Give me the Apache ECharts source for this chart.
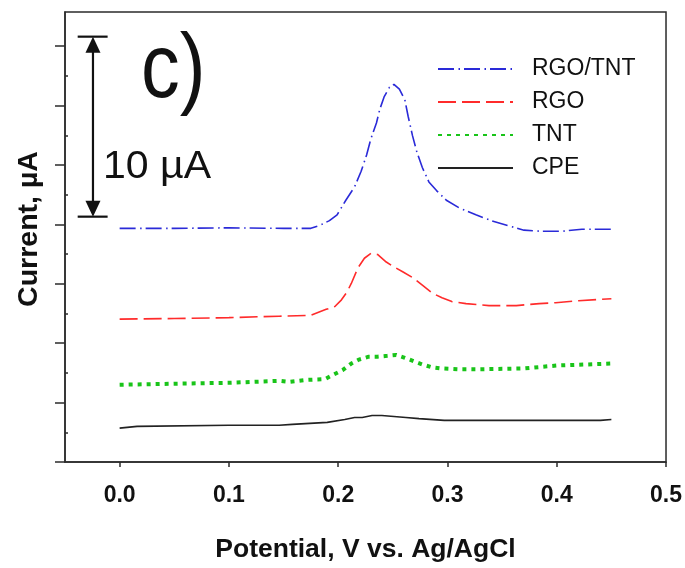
<!DOCTYPE html>
<html>
<head>
<meta charset="utf-8">
<script src="https://cdn.jsdelivr.net/npm/echarts@6/dist/echarts.min.js"></script>
<style>
  html, body { margin: 0; padding: 0; background: #fff; }
  #chart { width: 685px; height: 568px; }
</style>
</head>
<body>
<div id="chart"></div>
<script>
// Differential pulse voltammograms (current offset per electrode)
const seriesNames = ['RGO/TNT', 'RGO', 'TNT', 'CPE'];

const rgoTntX = [0.000, 0.050, 0.100, 0.150, 0.175, 0.183, 0.192, 0.199, 0.207, 0.215, 0.221, 0.226, 0.230, 0.235, 0.238, 0.242, 0.247, 0.251, 0.256, 0.261, 0.264, 0.268, 0.272, 0.277, 0.283, 0.290, 0.299, 0.311, 0.326, 0.340, 0.355, 0.370, 0.385, 0.405, 0.423, 0.450];
const rgoTntY = [12.98, 12.98, 13.01, 12.98, 12.98, 13.14, 13.41, 13.73, 14.54, 15.29, 16.15, 17.06, 17.97, 18.83, 19.58, 20.28, 20.82, 20.98, 20.71, 20.12, 19.21, 18.13, 17.22, 16.36, 15.56, 15.08, 14.54, 14.11, 13.73, 13.41, 13.14, 12.88, 12.82, 12.82, 12.93, 12.93];

const rgoX = [0.000, 0.050, 0.100, 0.146, 0.175, 0.189, 0.197, 0.203, 0.208, 0.212, 0.218, 0.224, 0.230, 0.236, 0.244, 0.251, 0.259, 0.268, 0.277, 0.286, 0.295, 0.304, 0.317, 0.338, 0.363, 0.384, 0.399, 0.420, 0.450];
const rgoY = [7.94, 7.97, 8.02, 8.10, 8.15, 8.48, 8.64, 9.01, 9.44, 9.92, 10.78, 11.32, 11.59, 11.53, 11.11, 10.84, 10.57, 10.25, 9.82, 9.39, 9.12, 8.91, 8.80, 8.69, 8.69, 8.80, 8.85, 8.96, 9.07];

const tntX = [0.000, 0.050, 0.100, 0.146, 0.155, 0.171, 0.188, 0.195, 0.204, 0.212, 0.219, 0.228, 0.236, 0.245, 0.253, 0.261, 0.270, 0.277, 0.286, 0.294, 0.311, 0.326, 0.370, 0.400, 0.450];
const tntY = [4.29, 4.35, 4.40, 4.51, 4.45, 4.56, 4.61, 4.83, 5.10, 5.47, 5.69, 5.85, 5.85, 5.90, 5.95, 5.79, 5.58, 5.42, 5.26, 5.20, 5.15, 5.15, 5.20, 5.36, 5.47];

const cpeX = [0.000, 0.016, 0.100, 0.146, 0.158, 0.190, 0.206, 0.215, 0.222, 0.231, 0.240, 0.262, 0.274, 0.297, 0.330, 0.400, 0.440, 0.450];
const cpeY = [1.88, 1.98, 2.04, 2.04, 2.09, 2.20, 2.36, 2.47, 2.47, 2.58, 2.58, 2.47, 2.41, 2.31, 2.31, 2.31, 2.31, 2.36];

// Axis ticks
const xTickValues = [0.0, 0.1, 0.2, 0.3, 0.4, 0.5];
const yMajorTicks = [0, 3.3, 6.6, 9.9, 13.2, 16.5, 19.8, 23.1];
const yMinorTicks = [1.65, 4.95, 8.25, 11.55, 14.85, 18.15, 21.45];

// 10 µA scale bar: [x, yBottom, yTop, capLeft, capRight]
const scaleBar = [[-0.0244, 13.63, 23.63, -0.0384, -0.0110]];

const zip = (xs, ys) => xs.map((x, i) => [x, ys[i]]);

const axisColor = '#2b2b2b';
const font = 'Arial, "Liberation Sans", Helvetica, sans-serif';

const chart = echarts.init(document.getElementById('chart'), null, { renderer: 'canvas' });

chart.setOption({
  animation: false,
  backgroundColor: '#ffffff',
  grid: {
    left: 65, right: 18, top: 12, bottom: 90,
    show: true, borderColor: axisColor, borderWidth: 1.5, backgroundColor: 'transparent'
  },
  legend: {
    orient: 'vertical',
    left: 432, top: 52,
    itemWidth: 75, itemHeight: 14, itemGap: 9,
    selectedMode: false,
    data: seriesNames,
    itemStyle: { opacity: 0 },
    textStyle: { fontFamily: font, fontSize: 23, color: '#111', lineHeight: 24, padding: [0, 0, 0, 14] }
  },
  xAxis: {
    type: 'value', min: -0.05, max: 0.5,
    name: 'Potential, V vs. Ag/AgCl',
    nameLocation: 'middle', nameGap: 74,
    nameTextStyle: { fontFamily: font, fontSize: 26.5, fontWeight: 'bold', color: '#111' },
    axisLine: { show: true, onZero: false, lineStyle: { color: axisColor, width: 1.5 } },
    axisTick: { show: true, inside: false, length: 5, customValues: xTickValues, lineStyle: { color: axisColor, width: 1.5 } },
    axisLabel: {
      show: true, margin: 22, customValues: xTickValues,
      formatter: v => v.toFixed(1),
      fontFamily: font, fontSize: 23, fontWeight: 'bold', color: '#111'
    },
    splitLine: { show: false }
  },
  yAxis: [
    {
      type: 'value', min: 0, max: 25, position: 'left',
      axisLine: { show: true, onZero: false, lineStyle: { color: axisColor, width: 1.5 } },
      axisTick: { show: true, inside: false, length: 10, customValues: yMajorTicks, lineStyle: { color: axisColor, width: 1.5 } },
      axisLabel: { show: false },
      splitLine: { show: false }
    },
    {
      type: 'value', min: 0, max: 25, position: 'left', offset: 0,
      axisLine: { show: false, onZero: false },
      axisTick: { show: true, inside: true, length: 3, customValues: yMinorTicks, lineStyle: { color: axisColor, width: 1.5 } },
      axisLabel: { show: false },
      splitLine: { show: false }
    }
  ],
  graphic: [
    {
      type: 'text', left: 141, top: 27, scaleX: 0.86,
      style: { text: 'c)', fontFamily: font, fontSize: 90, fill: '#111' }
    },
    {
      type: 'text', left: 103, top: 149, scaleX: 1.08,
      style: { text: '10 µA', fontFamily: font, fontSize: 38, fill: '#111' }
    },
    {
      type: 'text', x: 29, y: 229, rotation: Math.PI / 2,
      style: { text: 'Current, µA', fontFamily: font, fontSize: 28.5, fontWeight: 'bold', fill: '#111', align: 'center', verticalAlign: 'middle' }
    }
  ],
  series: [
    {
      name: 'RGO/TNT', type: 'line', symbol: 'none', data: zip(rgoTntX, rgoTntY),
      color: '#2a2ad8',
      lineStyle: { color: '#2a2ad8', width: 1.6, type: [16, 4.5, 1.5, 4] }
    },
    {
      name: 'RGO', type: 'line', symbol: 'none', data: zip(rgoX, rgoY),
      color: '#ff2b2b',
      lineStyle: { color: '#ff2b2b', width: 1.6, type: [18, 6] }
    },
    {
      name: 'TNT', type: 'line', symbol: 'none', data: zip(tntX, tntY),
      color: '#19c419',
      lineStyle: { color: '#19c419', width: 4, type: [4, 5] }
    },
    {
      name: 'CPE', type: 'line', symbol: 'none', data: zip(cpeX, cpeY),
      color: '#222222',
      lineStyle: { color: '#222222', width: 1.6 }
    },
    {
      name: 'scale', type: 'custom', silent: true, clip: false,
      encode: { x: [0, 3, 4], y: [1, 2] },
      data: scaleBar,
      renderItem: function (params, api) {
        const bottom = api.coord([api.value(0), api.value(1)]);
        const top = api.coord([api.value(0), api.value(2)]);
        const capL = api.coord([api.value(3), api.value(2)])[0];
        const capR = api.coord([api.value(4), api.value(2)])[0];
        const style = { stroke: '#111', lineWidth: 2.2, fill: null };
        const head = 16, half = 7.5;
        return {
          type: 'group',
          children: [
            { type: 'line', shape: { x1: top[0], y1: top[1] + head - 1, x2: bottom[0], y2: bottom[1] - head + 1 }, style: style },
            { type: 'line', shape: { x1: capL, y1: top[1], x2: capR, y2: top[1] }, style: style },
            { type: 'line', shape: { x1: capL, y1: bottom[1], x2: capR, y2: bottom[1] }, style: style },
            { type: 'polygon', shape: { points: [[top[0], top[1]], [top[0] - half, top[1] + head], [top[0] + half, top[1] + head]] }, style: { fill: '#111' } },
            { type: 'polygon', shape: { points: [[bottom[0], bottom[1]], [bottom[0] - half, bottom[1] - head], [bottom[0] + half, bottom[1] - head]] }, style: { fill: '#111' } }
          ]
        };
      }
    }
  ]
});
</script>
</body>
</html>
